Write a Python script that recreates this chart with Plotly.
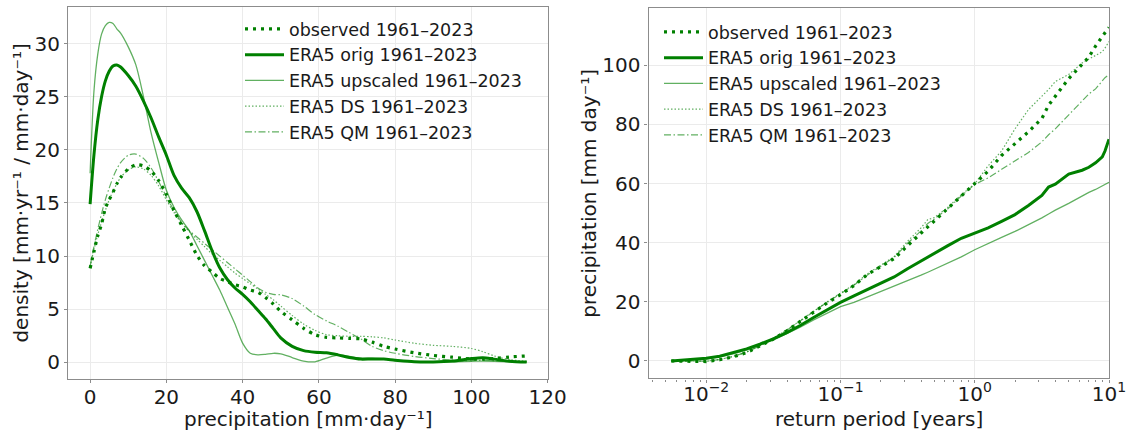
import plotly.graph_objects as go

# ---------------- data: left panel (density) ----------------
precip = [0, 1, 2, 3, 4, 5, 6, 7, 8, 10, 12, 14, 16, 18, 20, 22, 24, 26, 28, 30,
          32, 34, 36, 38, 40, 42, 44, 46, 48, 50, 53, 56, 59, 62, 65, 68, 71, 74,
          77, 80, 85, 90, 95, 100, 103, 106, 110, 114.5]

dens_observed = [8.85, 10.4, 11.9, 13.0, 14.5, 15.3, 16.0, 16.8, 17.4, 18.2, 18.6, 18.5,
                 18.0, 17.1, 15.8, 14.3, 12.9, 11.5, 10.1, 9.1, 8.5, 7.9, 7.6, 7.3, 7.1,
                 6.8, 6.6, 6.1, 5.5, 4.8, 4.0, 3.2, 2.6, 2.35, 2.3, 2.25, 2.2, 1.9, 1.5,
                 1.25, 0.9, 0.65, 0.48, 0.32, 0.3, 0.35, 0.5, 0.6]

dens_orig = [14.9, 19.5, 22.8, 25.0, 26.5, 27.4, 27.9, 28.0, 27.8, 27.0, 26.0, 24.6,
             23.0, 21.2, 19.5, 17.6, 16.4, 15.5, 14.2, 12.4, 10.5, 8.9, 7.8, 7.0, 6.4,
             5.7, 4.9, 4.1, 3.2, 2.3, 1.5, 1.1, 0.95, 0.9, 0.7, 0.45, 0.3, 0.32, 0.3,
             0.2, 0.06, 0.04, 0.12, 0.35, 0.43, 0.3, 0.1, 0.02]

dens_upscaled = [17.8, 25.5, 29.0, 30.9, 31.7, 32.0, 31.9, 31.4, 31.0, 29.7, 28.0, 25.0,
                 21.6, 18.8, 16.2, 14.6, 13.4, 12.4, 11.0, 9.6, 8.2, 6.8, 5.2, 3.6, 1.8,
                 0.85, 0.7, 0.75, 0.85, 0.8, 0.45, 0.12, 0.05, 0.4, 0.68, 0.55, 0.4, 0.38,
                 0.35, 0.15, 0.05, 0.03, 0.05, 0.1, 0.12, 0.1, 0.05, 0.02]

dens_ds = [9.0, 10.6, 12.0, 13.2, 14.3, 15.3, 16.1, 16.8, 17.4, 18.1, 18.4, 18.2, 17.6,
           16.6, 15.3, 14.1, 13.1, 12.3, 11.6, 10.9, 10.2, 9.6, 9.0, 8.4, 7.9, 7.4, 6.9,
           6.4, 5.9, 5.3, 4.4, 3.6, 3.0, 2.6, 2.5, 2.45, 2.45, 2.4, 2.3, 2.1, 1.8, 1.6,
           1.5, 1.3, 1.0, 0.6, 0.25, 0.1]

dens_qm = [9.0, 10.9, 12.5, 14.0, 15.3, 16.4, 17.4, 18.2, 18.8, 19.5, 19.6, 19.2, 18.3,
           17.0, 15.6, 14.3, 13.2, 12.4, 11.8, 11.2, 10.6, 10.0, 9.4, 8.8, 8.2, 7.6, 7.0,
           6.6, 6.4, 6.35, 6.0, 5.3, 4.5, 3.9, 3.4, 2.8, 2.2, 1.5, 1.1, 0.85, 0.55, 0.35,
           0.2, 0.15, 0.2, 0.15, 0.08, 0.03]

# ---------------- data: right panel (return levels) ----------------
return_period = [0.0055, 0.00794, 0.01, 0.0126, 0.0158, 0.02, 0.0251, 0.0316, 0.0398,
                 0.0501, 0.0631, 0.0794, 0.1, 0.126, 0.158, 0.2, 0.251, 0.316, 0.398,
                 0.447, 0.501, 0.631, 0.794, 1.0, 1.259, 1.585, 1.995, 2.512, 3.162,
                 3.548, 3.981, 5.012, 6.310, 7.079, 7.943, 8.913, 9.333, 10.0]

rl_observed = [0.0, -0.1, -0.2, 0.4, 1.4, 2.8, 5.0, 7.4, 10.2, 13.3, 16.6, 19.6, 22.4,
               25.5, 29.2, 31.9, 34.6, 39.0, 43.2, 45.2, 47.4, 51.8, 56.0, 59.9, 64.2,
               69.5, 73.5, 77.5, 82.0, 86.5, 89.5, 95.5, 100.3, 102.8, 106.5, 109.4,
               111.0, 112.8]

rl_orig = [0.0, 0.4, 0.9, 1.6, 2.7, 4.1, 5.7, 7.5, 9.6, 12.0, 14.7, 17.3, 19.8, 22.0,
           24.1, 26.3, 28.4, 31.2, 33.9, 35.2, 36.5, 39.0, 41.5, 43.3, 45.0, 47.2, 49.5,
           52.6, 56.0, 58.8, 59.8, 63.2, 64.5, 65.5, 67.0, 69.0, 71.0, 75.0]

rl_upscaled = [0.0, 0.3, 0.7, 1.4, 2.4, 3.7, 5.3, 7.1, 9.2, 11.4, 13.9, 16.2, 18.4, 19.8,
               21.6, 23.5, 25.1, 27.2, 29.0, 30.0, 31.0, 33.0, 35.2, 37.6, 39.8, 41.8,
               43.8, 46.0, 48.4, 49.7, 51.0, 53.3, 55.8, 57.0, 58.0, 59.2, 59.7, 60.4]

rl_ds = [0.0, -0.1, -0.1, 0.5, 1.5, 3.0, 5.2, 7.7, 10.5, 13.7, 16.9, 20.0, 22.9, 25.8,
         29.4, 32.3, 35.3, 40.5, 45.0, 47.8, 48.5, 52.0, 56.2, 59.9, 66.0, 71.0, 78.5,
         85.0, 89.6, 91.8, 94.5, 96.9, 100.8, 102.0, 103.4, 104.6, 105.8, 108.0]

rl_qm = [0.0, -0.1, -0.1, 0.5, 1.5, 3.0, 5.1, 7.6, 10.4, 13.5, 16.8, 19.8, 22.7, 25.6,
         29.0, 32.0, 35.0, 39.8, 44.0, 46.5, 48.0, 51.5, 55.8, 59.7, 61.9, 64.8, 67.6,
         70.5, 74.1, 76.5, 78.5, 83.3, 88.0, 90.3, 92.0, 95.0, 95.8, 96.8]

labels = ["observed 1961–2023", "ERA5 orig 1961–2023", "ERA5 upscaled 1961–2023",
          "ERA5 DS 1961–2023", "ERA5 QM 1961–2023"]

# ---------------- styles ----------------
DARK = "#008000"
LIGHT = "rgba(0,128,0,0.62)"
styles = [
    dict(color=DARK, width=3.2, dash="3px,5px"),
    dict(color=DARK, width=3.0, dash="solid"),
    dict(color=LIGHT, width=1.3, dash="solid"),
    dict(color=LIGHT, width=1.2, dash="1.5px,2px"),
    dict(color=LIGHT, width=1.2, dash="7px,2.5px,1.5px,2.5px"),
]

FONT = "DejaVu Sans"
TXT = "#1a1a1a"

fig = go.Figure()

left_series = [dens_observed, dens_orig, dens_upscaled, dens_ds, dens_qm]
for name, ys, st in zip(labels, left_series, styles):
    fig.add_trace(go.Scatter(x=precip, y=ys, mode="lines", name=name,
                             line=dict(shape="spline", smoothing=0.8, **st),
                             xaxis="x", yaxis="y", legend="legend"))

right_series = [rl_observed, rl_orig, rl_upscaled, rl_ds, rl_qm]
for name, ys, st in zip(labels, right_series, styles):
    fig.add_trace(go.Scatter(x=return_period, y=ys, mode="lines", name=name,
                             line=st, xaxis="x2", yaxis="y2", legend="legend2"))

W, H = 1131, 433
axis_common = dict(
    showline=True, mirror=True, linecolor="#8c8c8c", linewidth=1.2,
    showgrid=True, gridcolor="#ebebeb", gridwidth=1,
    ticks="outside", ticklen=3, tickwidth=1, tickcolor="#8c8c8c",
    tickfont=dict(family=FONT, size=20, color=TXT),
    zeroline=False, automargin=False,
)

minor_vals = []
for dec in [0.001, 0.01, 0.1, 1.0]:
    for m in range(2, 10):
        minor_vals.append(m * dec)

X1 = [68 / W, 548 / W]
X2 = [648.5 / W, 1109 / W]

fig.update_layout(
    width=W, height=H,
    margin=dict(l=0, r=0, t=0, b=0),
    paper_bgcolor="white", plot_bgcolor="white",
    font=dict(family=FONT, color=TXT),
    xaxis=dict(domain=X1, range=[-5.8, 120.1], dtick=20, tick0=0, anchor="y",
               ticklabelstandoff=-3, **axis_common),
    yaxis=dict(domain=[1 - 379.3 / H, 1 - 6.5 / H], range=[-1.6, 33.5], dtick=5, tick0=0,
               anchor="x",
               title=dict(text="density [mm·yr⁻¹ / mm·day⁻¹]",
                          font=dict(family=FONT, size=20, color=TXT), standoff=0),
               **axis_common),
    xaxis2=dict(domain=X2, type="log", range=[-2.43, 1.0], anchor="y2",
                tickmode="array", tickvals=[0.01, 0.1, 1, 10],
                ticktext=["10<sup>−2</sup>", "10<sup>−1</sup>", "10<sup>0</sup>", "10<sup>1</sup>"],
                minor=dict(tickmode="array", tickvals=minor_vals, ticks="outside",
                           ticklen=2, tickcolor="#8c8c8c", showgrid=False),
                ticklabelstandoff=-6, **axis_common),
    yaxis2=dict(domain=[1 - 378.4 / H, 1 - 8.2 / H], range=[-5.9, 119.3], dtick=20, tick0=0,
                anchor="x2",
                title=dict(text="precipitation [mm day⁻¹]",
                           font=dict(family=FONT, size=20, color=TXT), standoff=0),
                **axis_common),
    legend=dict(x=240 / W, y=1 - 11 / H, xanchor="left", yanchor="top",
                bgcolor="rgba(0,0,0,0)", borderwidth=0,
                font=dict(family=FONT, size=17.5, color=TXT), itemwidth=39),
    legend2=dict(x=659 / W, y=1 - 14 / H, xanchor="left", yanchor="top",
                 bgcolor="rgba(0,0,0,0)", borderwidth=0,
                 font=dict(family=FONT, size=17.5, color=TXT), itemwidth=39),
    showlegend=True,
)

# x-axis titles as paper-anchored text below each panel
for text, dom in [("precipitation [mm·day⁻¹]", X1), ("return period [years]", X2)]:
    fig.add_annotation(text=text, xref="paper", yref="paper",
                       x=(dom[0] + dom[1]) / 2, y=1 - 419 / H,
                       xanchor="center", yanchor="middle", showarrow=False,
                       font=dict(family=FONT, size=20, color=TXT))

fig.write_html("out.html")
